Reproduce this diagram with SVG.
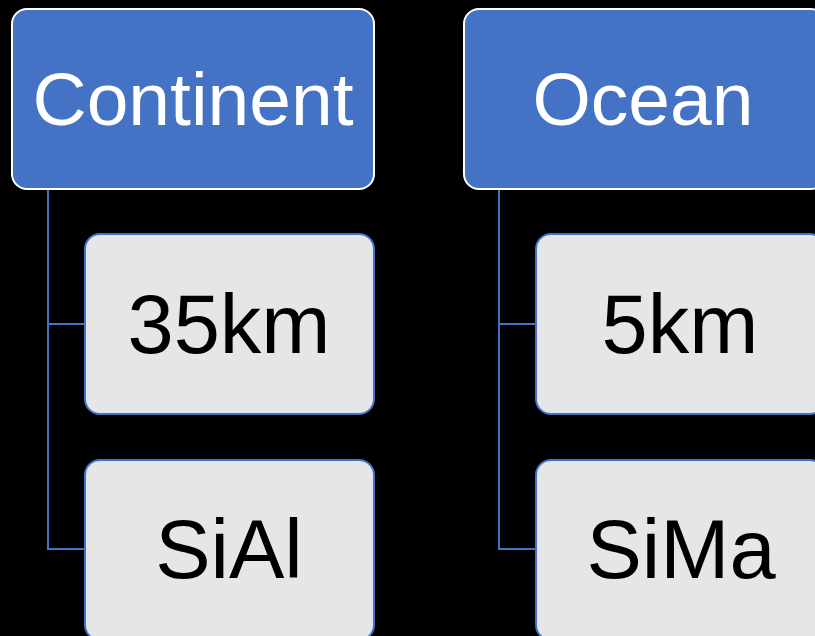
<svg xmlns="http://www.w3.org/2000/svg" width="815" height="636" viewBox="0 0 815 636">
<style>
.parent rect{fill:#4472C4;stroke:#FFFFFF;stroke-width:2}
.parent text{fill:#FFFFFF;font-family:"Liberation Sans",Arial,sans-serif;font-size:75px;text-anchor:middle}
.child rect{fill:#E7E6E6;stroke:#4472C4;stroke-width:2}
.child text{fill:#000000;font-family:"Liberation Sans",Arial,sans-serif;font-size:83px;text-anchor:middle}
.conn path{fill:none;stroke:#4472C4;stroke-width:2}
</style>
<rect x="0" y="0" width="815" height="636" fill="#000000"/>
<g class="conn" id="connectors">
<path d="M48,189 V324 H85"/>
<path d="M48,189 V549 H85"/>
<path d="M499,189 V324 H536"/>
<path d="M499,189 V549 H536"/>
</g>
<g class="parent" id="continent">
<rect x="12" y="9" width="362" height="180" rx="15"/>
<text x="193" y="125">Continent</text>
</g>
<g class="child" id="c35km">
<rect x="85" y="234" width="289" height="180" rx="15"/>
<text x="229" y="353">35km</text>
</g>
<g class="child" id="sial">
<rect x="85" y="460" width="289" height="180" rx="15"/>
<text x="229" y="578">SiAl</text>
</g>
<g class="parent" id="ocean">
<rect x="464" y="9" width="362" height="180" rx="15"/>
<text x="643" y="125">Ocean</text>
</g>
<g class="child" id="c5km">
<rect x="536" y="234" width="289" height="180" rx="15"/>
<text x="680" y="353">5km</text>
</g>
<g class="child" id="sima">
<rect x="536" y="460" width="289" height="180" rx="15"/>
<text x="681" y="578">SiMa</text>
</g>
</svg>
